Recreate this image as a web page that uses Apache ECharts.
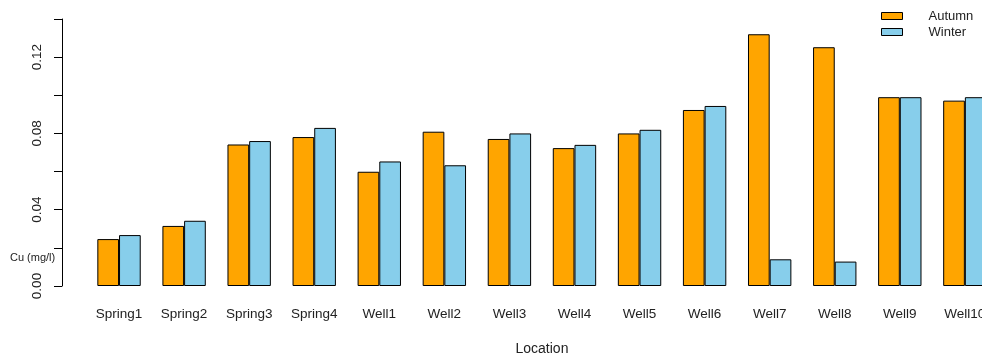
<!DOCTYPE html>
<html>
<head>
<meta charset="utf-8">
<script src="https://cdn.jsdelivr.net/npm/echarts@6/dist/echarts.min.js"></script>
<style>
  html, body { margin: 0; padding: 0; background: #fff; }
  #chart { width: 982px; height: 358px; }
</style>
</head>
<body>
<div id="chart"></div>
<script>
// Copper concentration by sampling location, two seasons
const locations = ['Spring1', 'Spring2', 'Spring3', 'Spring4', 'Well1', 'Well2', 'Well3',
                   'Well4', 'Well5', 'Well6', 'Well7', 'Well8', 'Well9', 'Well10'];
const autumn = [0.0246, 0.0315, 0.0742, 0.0781, 0.0599, 0.0809, 0.0771,
                0.0723, 0.0800, 0.0923, 0.1320, 0.1252, 0.0990, 0.0972];
const winter = [0.0267, 0.0342, 0.0760, 0.0829, 0.0653, 0.0633, 0.0800,
                0.0740, 0.0819, 0.0944, 0.0140, 0.0128, 0.0990, 0.0990];
const seriesNames = ['Autumn', 'Winter'];
const yTicks = [0, 0.04, 0.08, 0.12];

const FONT = '"Liberation Sans", Arial, sans-serif';
const INK = '#222';

const chart = echarts.init(document.getElementById('chart'), null, { renderer: 'canvas' });

chart.setOption({
  animation: false,
  backgroundColor: '#fff',
  textStyle: { fontFamily: FONT, color: INK },
  // plot area runs past the right edge of the canvas, so the last group is cut off
  grid: { left: 86.5, top: 19, width: 910.9, height: 267, containLabel: false, outerBoundsMode: 'none' },
  legend: {
    data: seriesNames,
    orient: 'vertical',
    left: 881,
    top: 8,
    padding: 0,
    itemWidth: 21,
    itemHeight: 7,
    itemGap: 0,
    icon: 'rect',
    itemStyle: { borderColor: '#000', borderWidth: 1 },
    textStyle: { fontFamily: FONT, fontSize: 13, color: INK, lineHeight: 15, padding: [1, 0, 0, 21] }
  },
  xAxis: {
    type: 'category',
    data: locations,
    axisLine: { show: false },
    axisTick: { show: false },
    axisLabel: { fontFamily: FONT, fontSize: 13.5, color: INK, margin: 21, interval: 0 },
    name: 'Location',
    nameLocation: 'middle',
    nameGap: 56,
    nameTextStyle: { fontFamily: FONT, fontSize: 14, color: INK }
  },
  yAxis: {
    type: 'value',
    min: 0,
    max: 0.14,
    interval: 0.02,
    offset: 24.5,
    axisLine: { show: true, lineStyle: { color: '#000', width: 1 } },
    axisTick: { show: true, length: 8, lineStyle: { color: '#000', width: 1 } },
    splitLine: { show: false },
    axisLabel: {
      rotate: 90,
      margin: 18,
      fontFamily: FONT,
      fontSize: 13.5,
      color: INK,
      formatter: v => yTicks.some(t => Math.abs(t - v) < 1e-9) ? v.toFixed(2) : ''
    }
  },
  series: [
    {
      name: seriesNames[0],
      type: 'bar',
      data: autumn,
      barGap: '0%',
      barCategoryGap: '33.33%',
      itemStyle: { color: '#FFA500', borderColor: '#000', borderWidth: 1 }
    },
    {
      name: seriesNames[1],
      type: 'bar',
      data: winter,
      barGap: '0%',
      barCategoryGap: '33.33%',
      itemStyle: { color: '#87CEEB', borderColor: '#000', borderWidth: 1 }
    }
  ],
  graphic: [
    {
      type: 'text',
      left: 10,
      top: 252,
      style: { text: 'Cu (mg/l)', font: '11px ' + FONT, fill: INK }
    }
  ]
});
</script>
</body>
</html>
